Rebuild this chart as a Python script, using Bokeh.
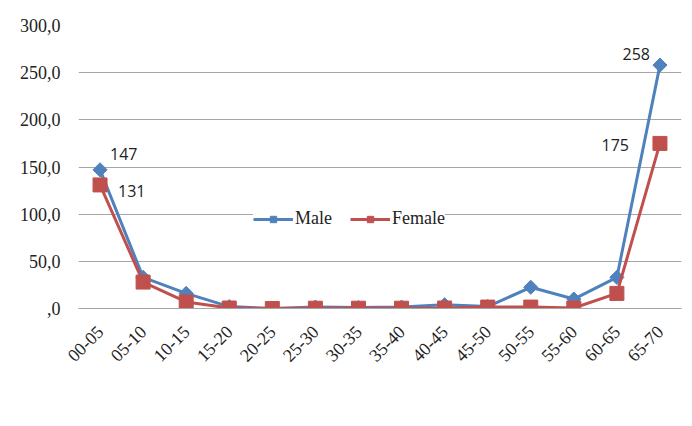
from bokeh.plotting import figure
from bokeh.models import ColumnDataSource, Range1d, FactorRange, Legend, LegendItem, CustomJSTickFormatter
from bokeh.core.properties import value
from bokeh.embed import file_html
from bokeh.resources import INLINE
import math

categories = ["00-05", "05-10", "10-15", "15-20", "20-25", "25-30", "30-35",
              "35-40", "40-45", "45-50", "50-55", "55-60", "60-65", "65-70"]
male = [147, 33, 16, 2, 0, 1.5, 1, 1.5, 4, 2, 22.5, 10, 33, 258]
female = [131, 28, 7, 0.5, 0, 0.3, 0.3, 0.3, 0.5, 1.5, 1.5, 0.5, 16, 175]
y_ticks = [0, 50, 100, 150, 200, 250, 300]

MALE_C = "#4F81BD"
FEMALE_C = "#C0504D"

p = figure(width=692, height=426, x_range=FactorRange(*categories),
           y_range=Range1d(0, 300), output_backend="svg", toolbar_location=None,
           min_border_left=78, min_border_right=11, min_border_top=25,
           min_border_bottom=118)
p.outline_line_color = None
p.background_fill_color = "white"
p.border_fill_color = "white"

src = ColumnDataSource(dict(cat=categories, male=male, female=female))

lm = p.line("cat", "male", source=src, line_color=MALE_C, line_width=3)
mm = p.scatter("cat", "male", source=src, marker="square", size=10, angle=math.pi / 4,
               fill_color=MALE_C, line_color=MALE_C)
lf = p.line("cat", "female", source=src, line_color=FEMALE_C, line_width=3)
mf = p.scatter("cat", "female", source=src, marker="square", size=14,
               fill_color=FEMALE_C, line_color=FEMALE_C)

# data labels
lbl_font = value("Open Sans")
p.text(x=[categories[0]], y=[male[0]], text=[str(male[0])], x_offset=10, y_offset=-16,
       text_font=lbl_font, text_font_size="16px", text_color="#222222",
       text_align="left", text_baseline="middle")
p.text(x=[categories[0]], y=[female[0]], text=[str(female[0])], x_offset=18, y_offset=6,
       text_font=lbl_font, text_font_size="16px", text_color="#222222",
       text_align="left", text_baseline="middle")
p.text(x=[categories[-1]], y=[male[-1]], text=[str(male[-1])], x_offset=-10, y_offset=-11,
       text_font=lbl_font, text_font_size="16px", text_color="#222222",
       text_align="right", text_baseline="middle")
p.text(x=[categories[-1]], y=[female[-1]], text=[str(female[-1])], x_offset=-31, y_offset=2,
       text_font=lbl_font, text_font_size="16px", text_color="#222222",
       text_align="right", text_baseline="middle")

# axes
p.yaxis.ticker = y_ticks
p.yaxis.formatter = CustomJSTickFormatter(code="""
    return tick == 0 ? ',0' : tick.toFixed(1).replace('.', ',');
""")
p.yaxis.axis_line_color = None
p.yaxis.major_tick_line_color = None
p.yaxis.minor_tick_line_color = None
p.yaxis.major_label_text_font = "Liberation Serif"
p.yaxis.major_label_text_font_size = "18px"
p.yaxis.major_label_text_color = "#222222"
p.yaxis.major_label_standoff = 12

p.xaxis.axis_line_color = "#a6a6a6"
p.xaxis.major_tick_line_color = None
p.xaxis.minor_tick_line_color = None
p.xaxis.major_label_orientation = math.pi / 4
p.xaxis.major_label_text_font = "Liberation Serif"
p.xaxis.major_label_text_font_size = "18px"
p.xaxis.major_label_text_color = "#222222"
p.xaxis.major_label_standoff = 14

p.xgrid.grid_line_color = None
p.ygrid.grid_line_color = "#a6a6a6"
p.ygrid.grid_line_width = 1

legend = Legend(items=[LegendItem(label="Male", renderers=[lm, mm]),
                       LegendItem(label="Female", renderers=[lf, mf])],
                orientation="horizontal", location=(175, 79),
                label_text_font="Liberation Serif", label_text_font_size="18px",
                label_text_color="#222222", glyph_width=40, glyph_height=16,
                label_standoff=2, spacing=18, border_line_color=None,
                background_fill_color="white", background_fill_alpha=1.0,
                margin=0, padding=5)
p.add_layout(legend, "center")

open("out.html", "w").write(file_html(p, INLINE))
